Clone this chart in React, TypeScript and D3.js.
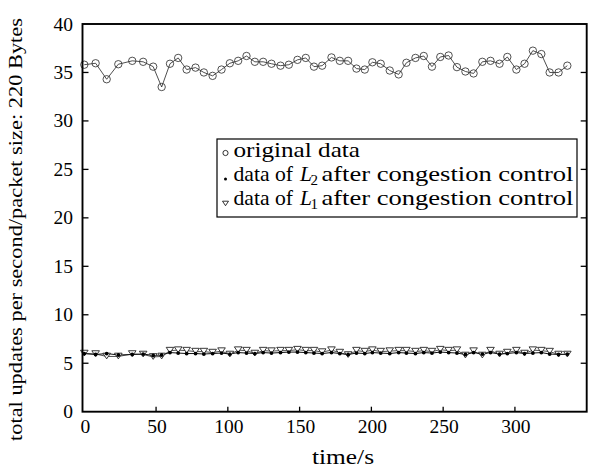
import React from "react";
import * as d3 from "d3";

const times = [0, 7.9, 15.6, 23.7, 33.4, 41, 48, 53.9, 59.7, 65.4, 71.3, 77.5, 83.3, 89.4, 95.6, 101.4, 107.2, 113, 118.8, 124.6, 130.4, 136.7, 142.5, 148.5, 154.3, 160, 165.7, 172.2, 178, 183.8, 189.6, 195.4, 200.7, 206.5, 212.8, 219, 224.4, 230.7, 236.5, 242.2, 248, 253.8, 259.6, 265.5, 271.2, 277.3, 283, 289.3, 294.7, 301, 306.7, 312.5, 318.4, 324.2, 330.4, 336.5];

const original = [35.8, 35.95, 34.3, 35.85, 36.2, 36.1, 35.6, 33.5, 35.9, 36.5, 35.3, 35.5, 35.0, 34.65, 35.3, 35.95, 36.2, 36.7, 36.1, 36.1, 35.9, 35.7, 35.8, 36.3, 36.5, 35.6, 35.7, 36.55, 36.2, 36.2, 35.4, 35.3, 36.05, 35.9, 35.2, 34.8, 36.0, 36.5, 36.7, 35.6, 36.6, 36.75, 35.55, 35.1, 34.9, 36.1, 36.2, 35.9, 36.6, 35.3, 35.9, 37.25, 36.9, 35.0, 35.0, 35.7];

const dataL1 = [
  6.0, 5.95, 5.7, 5.7, 5.95, 5.9, 5.65, 5.7,
  6.3, 6.35, 6.3, 6.2, 6.2, 6.1, 6.25, 5.9,
  6.35, 6.3, 6.0, 6.3, 6.25, 6.3, 6.3, 6.4,
  6.3, 6.3, 6.15, 6.35, 6.1, 5.85, 6.3, 6.2,
  6.35, 6.2, 6.25, 6.3, 6.3, 6.2, 6.3, 6.2,
  6.4, 6.3, 6.35, 5.8, 6.25, 5.8, 6.3, 5.9,
  6.1, 6.3, 6.0, 6.35, 6.3, 6.2, 5.9, 5.9,
];

const dataL2 = [
  6.0, 5.9, 6.0, 5.85, 5.9, 5.95, 5.8, 5.85,
  6.1, 6.05, 6.0, 6.0, 5.95, 6.0, 6.05, 5.95,
  6.1, 6.05, 6.0, 6.1, 6.05, 6.1, 6.15, 6.15,
  6.1, 6.05, 6.0, 6.1, 6.0, 5.9, 6.05, 6.0,
  6.1, 6.05, 6.0, 6.1, 6.05, 6.0, 6.1, 6.05,
  6.15, 6.1, 6.05, 5.9, 6.1, 5.95, 6.1, 5.95,
  6.0, 6.1, 6.0, 6.05, 6.1, 5.95, 5.9, 5.95,
];

const xTicks = [0, 50, 100, 150, 200, 250, 300];
const yTicks = [0, 5, 10, 15, 20, 25, 30, 35, 40];
const xDomain = [-1.25, 350];
const yDomain = [0, 40];

const FONT = "'Liberation Serif', serif";

export default function App() {
  const left = 82.5, right = 586.7, top = 24, bottom = 411.7;
  const x = d3.scaleLinear().domain(xDomain).range([left, right]);
  const y = d3.scaleLinear().domain(yDomain).range([bottom, top]);

  const line = (vals: number[]) =>
    d3.line<number>().x((_, i) => x(times[i])).y((v) => y(v))(vals) || "";

  const tri = (cx: number, cy: number, s: number) =>
    `M${cx - s},${cy - s * 0.6}L${cx + s},${cy - s * 0.6}L${cx},${cy + s * 0.9}Z`;

  const lt = { fontFamily: FONT, fontSize: 21.5, fill: "#000" } as const;

  const legendRow = (yb: number, sub: string) => (
    <g>
      <text x={233.5} y={yb} {...lt} textLength={59.5} lengthAdjust="spacingAndGlyphs">data of</text>
      <text x={300} y={yb} {...lt} fontStyle="italic">L</text>
      <text x={310.5} y={yb + 4} fontFamily={FONT} fontSize={15} fill="#000">{sub}</text>
      <text x={321.5} y={yb} {...lt} textLength={252} lengthAdjust="spacingAndGlyphs">after congestion control</text>
    </g>
  );

  return (
    <svg width={596} height={472} style={{ position: "absolute", left: 0, top: 0, background: "#fff" }}>
      <rect width={596} height={472} fill="#fff" />
      {/* series lines */}
      <path d={line(original)} fill="none" stroke="#222" strokeWidth={0.8} />
      <path d={line(dataL1)} fill="none" stroke="#222" strokeWidth={0.8} />
      <path d={line(dataL2)} fill="none" stroke="#111" strokeWidth={1} />
      {original.map((v, i) => (
        <circle key={"o" + i} cx={x(times[i])} cy={y(v)} r={3.7} fill="none" stroke="#333" strokeWidth={0.85} />
      ))}
      {dataL1.map((v, i) => (
        <path key={"t" + i} d={tri(x(times[i]), y(v) - 1, 3.8)} fill="#fff" stroke="#222" strokeWidth={0.9} />
      ))}
      {dataL2.map((v, i) => (
        <circle key={"d" + i} cx={x(times[i])} cy={y(v)} r={1.9} fill="#000" />
      ))}
      {/* frame */}
      <rect x={left} y={top} width={right - left} height={bottom - top} fill="none" stroke="#000" strokeWidth={1.9} />
      {/* x ticks */}
      {xTicks.map((t) => (
        <g key={"xt" + t}>
          {t !== 0 && <line x1={x(t)} x2={x(t)} y1={bottom} y2={bottom - 5} stroke="#000" strokeWidth={1.3} />}
          <text x={x(t) + 1} y={432.5} textAnchor="middle" fontFamily={FONT} fontSize={19.5} fill="#000">{t}</text>
        </g>
      ))}
      {/* y ticks */}
      {yTicks.map((t) => (
        <g key={"yt" + t}>
          {t !== 0 && t !== 40 && (
            <>
              <line x1={left} x2={left + 6} y1={y(t)} y2={y(t)} stroke="#000" strokeWidth={1.3} />
              <line x1={right} x2={right - 6} y1={y(t)} y2={y(t)} stroke="#000" strokeWidth={1.3} />
            </>
          )}
          <text x={73} y={y(t) + 6.5} textAnchor="end" fontFamily={FONT} fontSize={19.5} fill="#000">{t}</text>
        </g>
      ))}
      {/* axis titles */}
      <text x={343} y={464} textAnchor="middle" fontFamily={FONT} fontSize={20.5} textLength={62} lengthAdjust="spacingAndGlyphs" fill="#000">time/s</text>
      <text transform={`translate(22,229.5) rotate(-90)`} textAnchor="middle" fontFamily={FONT} fontSize={19.5} textLength={423} lengthAdjust="spacingAndGlyphs" fill="#000">
        total updates per second/packet size: 220 Bytes
      </text>
      {/* legend */}
      <g>
        <rect x={217} y={139} width={360} height={78} fill="#fff" stroke="#000" strokeWidth={1.2} />
        <circle cx={225.5} cy={153} r={2.6} fill="none" stroke="#000" strokeWidth={0.8} />
        <text x={233.5} y={157} {...lt} textLength={126.5} lengthAdjust="spacingAndGlyphs">original data</text>
        <circle cx={225.5} cy={179} r={1.5} fill="#000" />
        {legendRow(181, "2")}
        <path d={tri(225.5, 203, 3)} fill="#fff" stroke="#000" strokeWidth={0.8} />
        {legendRow(205, "1")}
      </g>
    </svg>
  );
}
